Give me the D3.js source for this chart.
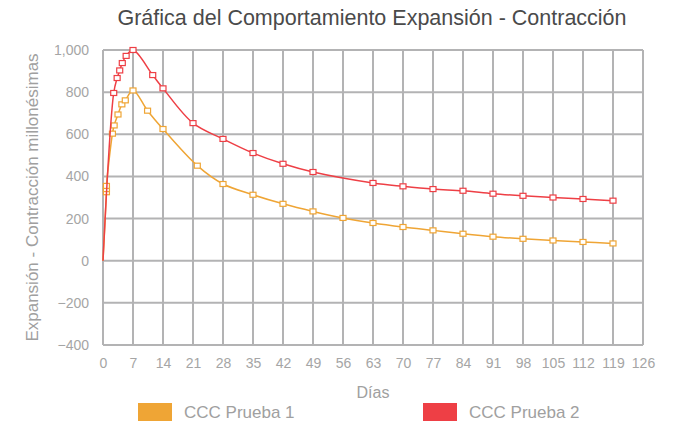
<!DOCTYPE html>
<html>
<head>
<meta charset="utf-8">
<script src="https://cdn.jsdelivr.net/npm/d3@7"></script>
<style>
  body { margin: 0; background: #fff; }
  text { font-family: "Liberation Sans", Arial, sans-serif; }
</style>
</head>
<body>
<div id="chart"></div>
<script>
// Prueba 1 (naranja)
var diasP1 = [0, 0.8, 0.8, 0.8, 2.2, 2.6, 3.5, 4.4, 5.2, 7, 10.4, 14, 22, 28, 35, 42, 49, 56, 63, 70, 77, 84, 91, 98, 105, 112, 119];
var valP1 = [0, 325, 340, 355, 603, 642, 694, 742, 761, 808, 712, 625, 451, 364, 313, 270, 234, 203, 179, 160, 144, 128, 114, 104, 96, 89, 82];
// Prueba 2 (rojo)
var diasP2 = [0, 2.5, 3.3, 3.9, 4.5, 5.4, 7, 11.6, 14, 21, 28, 35, 42, 49, 63, 70, 77, 84, 91, 98, 105, 112, 119];
var valP2 = [0, 796, 867, 903, 938, 972, 1000, 881, 818, 653, 578, 511, 460, 421, 369, 353, 340, 332, 318, 308, 300, 293, 285];

var xTicks = d3.range(0, 127, 7);
var yTicks = [-400, -200, 0, 200, 400, 600, 800, 1000];
var seriesNames = ["CCC Prueba 1", "CCC Prueba 2"];
var seriesColors = ["#EFA535", "#EE3F45"];

var width = 677, height = 422;
var margin = {top: 50, right: 34, bottom: 77, left: 103};

var svg = d3.select("#chart").append("svg")
    .attr("width", width)
    .attr("height", height);

var x = d3.scaleLinear().domain([0, 126]).range([margin.left, width - margin.right]);
var y = d3.scaleLinear().domain([-400, 1000]).range([height - margin.bottom, margin.top]);

var gridColor = "#b3b3b4";

// grid
svg.append("g").selectAll("line").data(xTicks).enter().append("line")
    .attr("x1", d => x(d)).attr("x2", d => x(d))
    .attr("y1", y(1000)).attr("y2", y(-400))
    .attr("stroke", gridColor).attr("stroke-width", 2);
svg.append("g").selectAll("line").data(yTicks).enter().append("line")
    .attr("x1", x(0)).attr("x2", x(126))
    .attr("y1", d => y(d)).attr("y2", d => y(d))
    .attr("stroke", gridColor).attr("stroke-width", 2);

// axes (labels only)
var xAxis = svg.append("g")
    .attr("transform", "translate(0," + y(-400) + ")")
    .call(d3.axisBottom(x).tickValues(xTicks).tickSize(0).tickPadding(13));
var yAxis = svg.append("g")
    .attr("transform", "translate(" + x(0) + ",0)")
    .call(d3.axisLeft(y).tickValues(yTicks).tickSize(0).tickPadding(14).tickFormat(d3.format(",")));
[xAxis, yAxis].forEach(function(a) {
  a.select(".domain").remove();
  a.selectAll("text").attr("fill", "#a5a5a5").style("font-size", "14px")
    .style("font-family", "'Liberation Sans', Arial, sans-serif");
});

// series
var series = [
  {dias: diasP1, val: valP1},
  {dias: diasP2, val: valP2}
];

var line = d3.line()
    .x(d => x(d[0]))
    .y(d => y(d[1]))
    .curve(d3.curveCatmullRom.alpha(0.5));

series.forEach(function(s, i) {
  var pts = s.dias.map((d, j) => [d, s.val[j]]);
  svg.append("path")
      .datum(pts)
      .attr("d", line)
      .attr("fill", "none")
      .attr("stroke", seriesColors[i])
      .attr("stroke-width", 1.5);
  svg.append("g").selectAll("rect").data(pts.slice(1)).enter().append("rect")
      .attr("x", d => x(d[0]) - 3)
      .attr("y", d => y(d[1]) - 2.5)
      .attr("width", 6)
      .attr("height", 5)
      .attr("fill", "#fff")
      .attr("stroke", seriesColors[i])
      .attr("stroke-width", 1.2);
});

// title
svg.append("text")
    .attr("x", 372).attr("y", 25)
    .attr("text-anchor", "middle")
    .attr("fill", "#4a4a4a")
    .style("font-size", "21.5px")
    .text("Gráfica del Comportamiento Expansión - Contracción");

// axis titles
svg.append("text")
    .attr("x", 373).attr("y", 398)
    .attr("text-anchor", "middle")
    .attr("fill", "#a0a0a0")
    .style("font-size", "16px")
    .text("Días");

svg.append("text")
    .attr("transform", "translate(38," + ((margin.top + height - margin.bottom) / 2) + ") rotate(-90)")
    .attr("text-anchor", "middle")
    .attr("fill", "#a0a0a0")
    .style("font-size", "17px")
    .text("Expansión - Contracción millonésimas");

// legend
var legendX = [138, 423];
var legend = svg.append("g").selectAll("g").data(seriesNames).enter().append("g")
    .attr("transform", (d, i) => "translate(" + legendX[i] + ",403)");
legend.append("rect")
    .attr("width", 34).attr("height", 18)
    .attr("fill", (d, i) => seriesColors[i]);
legend.append("text")
    .attr("x", 46).attr("y", 15)
    .attr("fill", "#a0a0a0")
    .style("font-size", "17px")
    .text(d => d);
</script>
</body>
</html>
